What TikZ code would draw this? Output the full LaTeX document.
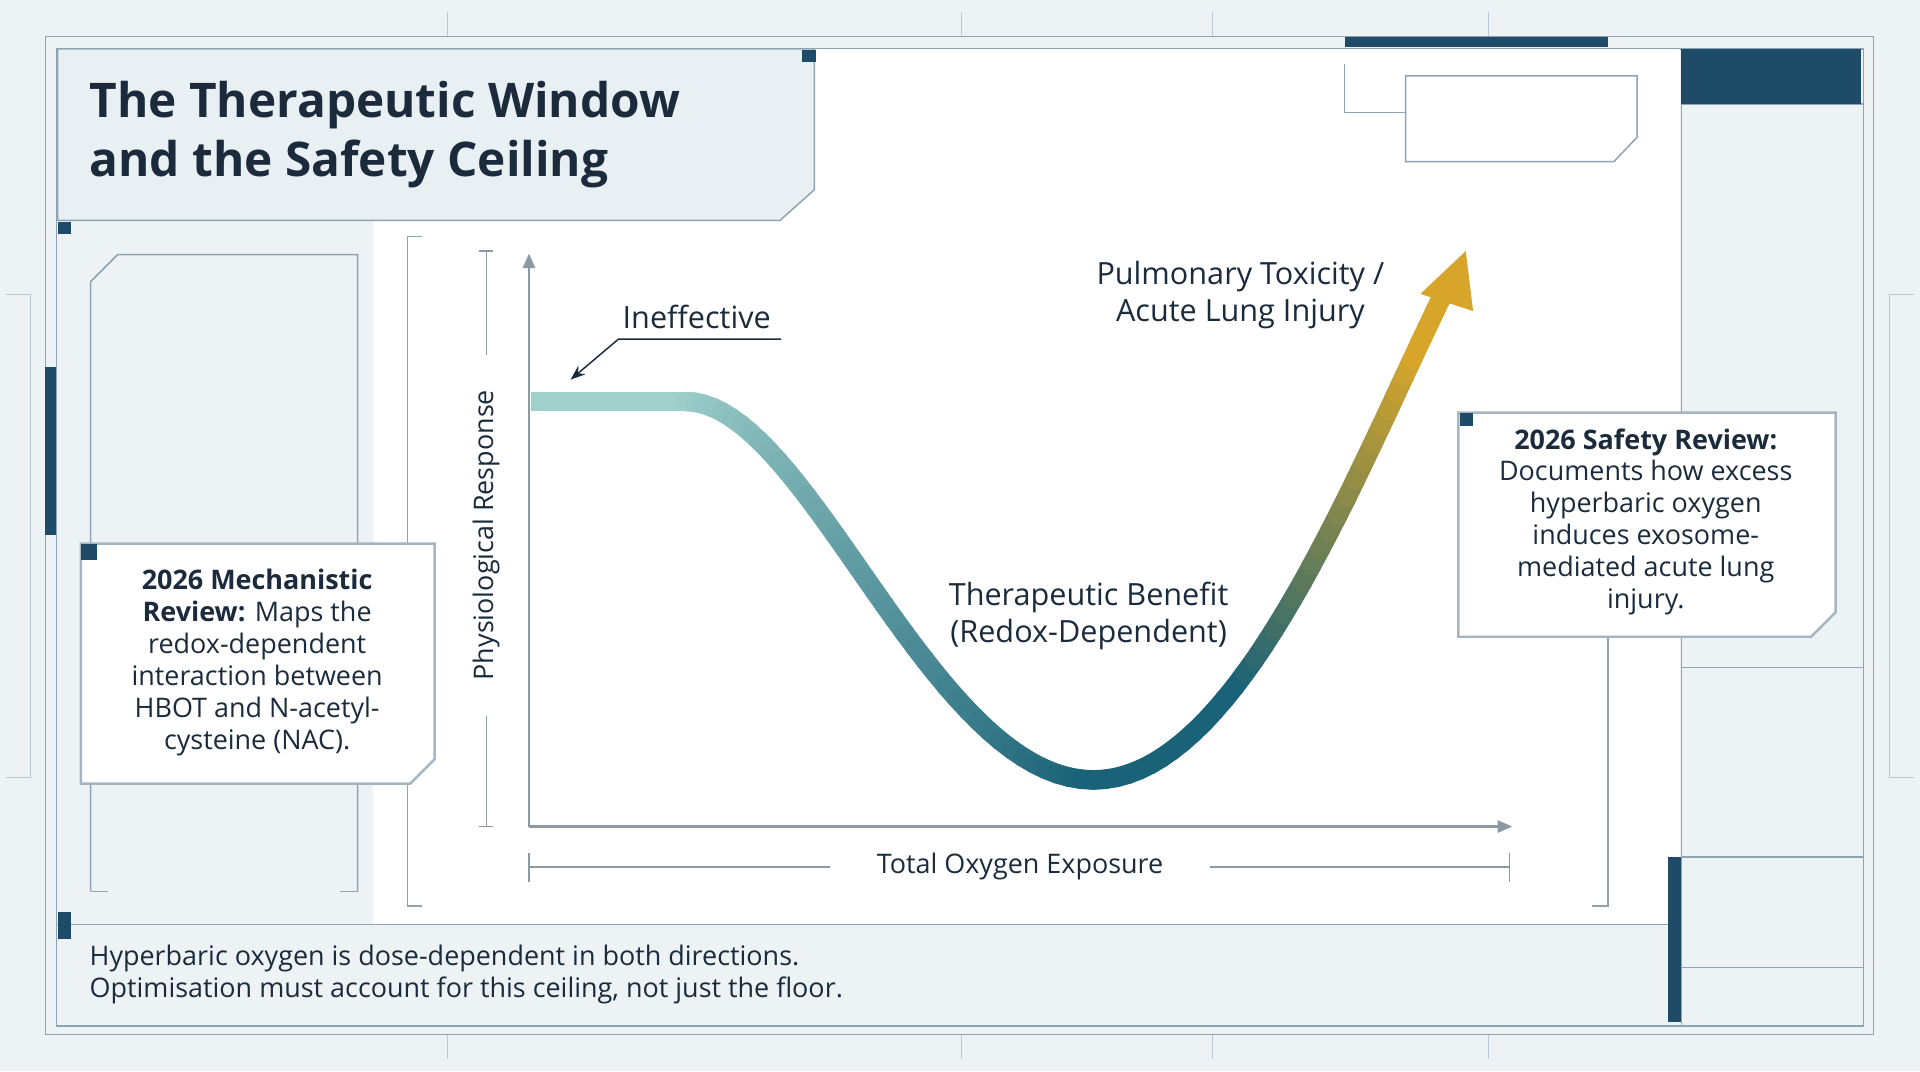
\documentclass[tikz,border=0pt]{standalone}
\usepackage{fontspec}
\setmainfont{Open Sans}
\usetikzlibrary{arrows.meta}
\definecolor{bg}{HTML}{EDF2F5}
\definecolor{navy}{HTML}{1E4B68}
\definecolor{ink}{HTML}{1B2B3C}
\definecolor{frame}{HTML}{8FA3B3}
\definecolor{boxfill}{HTML}{E8F0F4}
\definecolor{tlight}{HTML}{9FD0CB}
\definecolor{tdark}{HTML}{1A6277}
\definecolor{gold}{HTML}{D6A52A}
\definecolor{axis}{HTML}{8E9AA3}
\tikzset{
 fr/.style={draw=frame,line width=1.2pt},
 sq/.style={fill=navy,draw=none},
 txt/.style={text=ink,font=\fontsize{22}{26}\selectfont,align=center,inner sep=0},
 seg/.style={line width=16pt,line cap=round},
}
\newcommand\bz[5]{(1-#1)^3*#2+3*(1-#1)^2*#1*#3+3*(1-#1)*#1^2*#4+#1^3*#5}
\begin{document}
\begin{tikzpicture}[x=1pt,y=-1pt]
\useasboundingbox (0,0) rectangle (1568,875);
\fill[bg] (0,0) rectangle (1568,875);
% faint guide ticks
\foreach \x in {365,785,990,1215}{\draw[frame!60] (\x,10)--(\x,30);\draw[frame!60] (\x,845)--(\x,865);}
\draw[frame!60] (5,240)--(25,240)--(25,635)--(5,635);
\draw[frame!60] (1563,240)--(1543,240)--(1543,635)--(1563,635);
% frames
\draw[fr] (37,30) rectangle (1530,845);
\draw[fr,fill=bg] (46,40) rectangle (1522,838);
\fill[white] (305,40) rectangle (1372,755);
\draw[fr] (46,755)--(1372,755);
% right column
\draw[fr] (1373,40)--(1373,838);
\foreach \y in {85,545,700,790}{\draw[fr] (1373,\y)--(1522,\y);}
\fill[navy] (1373,40) rectangle (1520,85);
\fill[navy] (1098,30) rectangle (1313,38);
\fill[navy] (37,300) rectangle (46,437);
\fill[navy] (1362,700) rectangle (1373,835);
% title box
\draw[fr,fill=boxfill] (47,40)--(665,40)--(665,155)--(637,180)--(47,180)--cycle;
\fill[sq] (655,41) rectangle (666,51);
\fill[sq] (47,181) rectangle (58,191);
\fill[sq] (47,745) rectangle (58,767);
\node[anchor=west,text=ink,font=\fontsize{39}{48}\selectfont\bfseries,align=left,inner sep=0] (title) at (73,110) {The Therapeutic Window\\and the Safety Ceiling};
% top-right empty box
\draw[fr] (1098,52)--(1098,92)--(1148,92);
\draw[fr,fill=white] (1148,62)--(1337,62)--(1337,112)--(1318,132)--(1148,132)--cycle;
% left empty frame
\draw[fr] (74,728)--(74,230)--(96,208)--(292,208)--(292,728);
\draw[fr] (74,728)--(88,728);\draw[fr] (292,728)--(278,728);
% chart brackets
\draw[fr] (345,193)--(333,193)--(333,740)--(345,740);
\draw[fr] (1300,740)--(1313,740)--(1313,520);
% left text box
\draw[fr,line width=2pt,fill=white,draw=frame!80] (66,444)--(355,444)--(355,620)--(335,640)--(66,640)--cycle;
\fill[sq] (66,444) rectangle (79,457);
\node[txt] (left) at (210,541) {\textbf{2026 Mechanistic}\\\textbf{Review:} Maps the\\redox-dependent\\interaction between\\HBOT and N-acetyl-\\cysteine (NAC).};
% right text box
\draw[fr,line width=2pt,fill=white,draw=frame!80] (1191,337)--(1499,337)--(1499,500)--(1479,520)--(1191,520)--cycle;
\fill[sq] (1192,337) rectangle (1203,348);
\node[txt] (right) at (1344,426) {\textbf{2026 Safety Review:}\\Documents how excess\\hyperbaric oxygen\\induces exosome-\\mediated acute lung\\injury.};
% axes
\coordinate (o) at (432,675);
\coordinate (ytop) at (432,207);
\coordinate (xend) at (1235,675);
\draw[axis,line width=2pt,-{Triangle[length=12pt,width=10pt]}] (o)--(ytop);
\draw[axis,line width=2pt,-{Triangle[length=12pt,width=10pt]}] (o)--(xend);
\node[txt,rotate=90] (ylab) at (397,437) {Physiological Response};
\draw[axis,line width=1pt] (391,205)--(403,205) (397,205)--(397,290) (397,585)--(397,675) (391,675)--(403,675);
\node[txt] (xlab) at (833,708) {Total Oxygen Exposure};
\draw[axis,line width=1pt] (432,697)--(432,720) (432,708)--(678,708) (988,708)--(1233,708) (1233,697)--(1233,720);
% curve
\draw[line width=16pt,tlight] (434,328)--(562,328);
\foreach \i in {1,...,40}{
 \pgfmathsetmacro\ta{(\i-1)/40}\pgfmathsetmacro\tb{\i/40}
 \pgfmathsetmacro\xa{\bz{\ta}{560}{660}{760}{893}}\pgfmathsetmacro\ya{\bz{\ta}{328}{328}{637}{637}}
 \pgfmathsetmacro\xb{\bz{\tb}{560}{660}{760}{893}}\pgfmathsetmacro\yb{\bz{\tb}{328}{328}{637}{637}}
 \pgfmathsetmacro\m{100*\tb}
 \draw[seg,color=tdark!\m!tlight] (\xa,\ya)--(\xb,\yb);}
\foreach \i in {1,...,38}{
 \pgfmathsetmacro\ta{(\i-1)/40}\pgfmathsetmacro\tb{\i/40}
 \pgfmathsetmacro\xa{\bz{\ta}{893}{1020}{1120}{1195}}\pgfmathsetmacro\ya{\bz{\ta}{637}{637}{350}{208}}
 \pgfmathsetmacro\xb{\bz{\tb}{893}{1020}{1120}{1195}}\pgfmathsetmacro\yb{\bz{\tb}{637}{637}{350}{208}}
 \pgfmathsetmacro\m{max(0,min(100,(\tb-0.35)*200))}
 \draw[seg,color=gold!\m!tdark] (\xa,\ya)--(\xb,\yb);}
\coordinate (tip) at (1197,205);
\fill[gold] (tip)--(1160,240)--(1203,254)--cycle;
% labels
\node[txt,font=\fontsize{25}{30}\selectfont] (ineff) at (569,259) {Ineffective};
\coordinate (c1) at (638,277);\coordinate (c2) at (505,277);\coordinate (c3) at (466,310);
\draw[ink,line width=1.2pt,-{Stealth[length=12pt,width=9pt]}] (c1)--(c2)--(c3);
\node[txt,font=\fontsize{25}{30}\selectfont] (tox) at (1013,241) {Pulmonary Toxicity /\\Acute Lung Injury};
\node[txt,font=\fontsize{25}{30}\selectfont] (ben) at (889,503) {Therapeutic Benefit\\(Redox-Dependent)};
\node[txt,anchor=west,align=left] (foot) at (73,796) {Hyperbaric oxygen is dose-dependent in both directions.\\Optimisation must account for this ceiling, not just the floor.};
\end{tikzpicture}
\end{document}
